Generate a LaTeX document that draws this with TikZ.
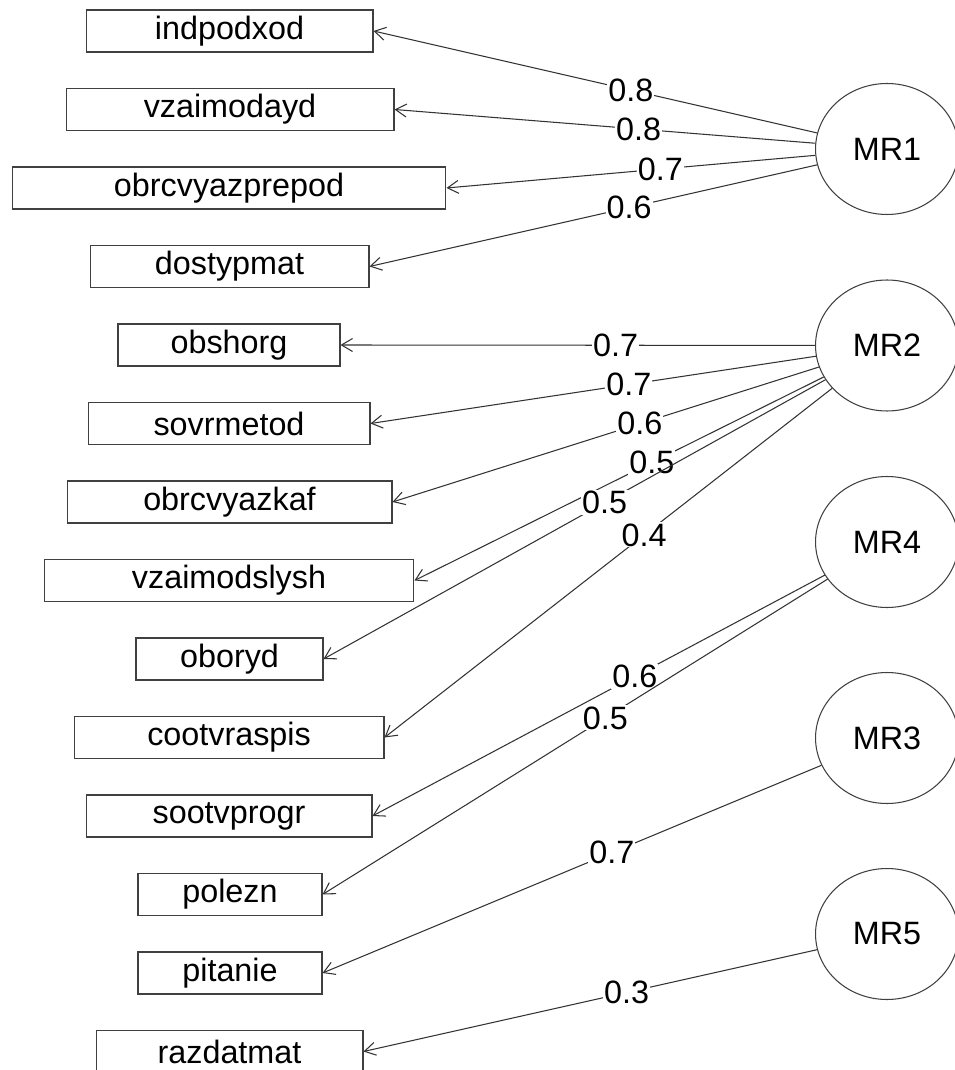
\documentclass[tikz,border=0pt]{standalone}
\usepackage{fontspec}
\setmainfont{Liberation Sans}
\usetikzlibrary{shapes.geometric,arrows.meta}
\begin{document}
\begin{tikzpicture}[x=0.02cm,y=-0.02cm,
  font=\fontsize{18.4}{22}\selectfont,
  var/.style={draw=black!75,line width=0.6pt,rectangle,minimum height=0.84cm,inner sep=0pt},
  fac/.style={draw=black!75,line width=0.6pt,ellipse,minimum width=2.86cm,minimum height=2.62cm,inner sep=0pt},
  arr/.style={draw=black!80,line width=0.6pt,-{Straight Barb[length=0.22cm,width=0.26cm,line width=0.6pt]}},
  lbl/.style={fill=white,inner sep=0.6pt,pos=0.42}]
\useasboundingbox (0,0) rectangle (955,1070);
\node[var,minimum width=5.74cm] (indpodxod) at (229.5,31) {indpodxod};
\node[var,minimum width=6.56cm] (vzaimodayd) at (230,109.5) {vzaimodayd};
\node[var,minimum width=8.68cm] (obrcvyazprepod) at (229,188) {obrcvyazprepod};
\node[var,minimum width=5.58cm] (dostypmat) at (229.5,266.5) {dostypmat};
\node[var,minimum width=4.44cm] (obshorg) at (229,345) {obshorg};
\node[var,minimum width=5.64cm] (sovrmetod) at (229,423.5) {sovrmetod};
\node[var,minimum width=6.50cm] (obrcvyazkaf) at (229.5,502) {obrcvyazkaf};
\node[var,minimum width=7.40cm] (vzaimodslysh) at (229,580.5) {vzaimodslysh};
\node[var,minimum width=3.74cm] (oboryd) at (229.5,659) {oboryd};
\node[var,minimum width=6.20cm] (cootvraspis) at (229,737.5) {cootvraspis};
\node[var,minimum width=5.72cm] (sootvprogr) at (229,816) {sootvprogr};
\node[var,minimum width=3.68cm] (polezn) at (230,894.5) {polezn};
\node[var,minimum width=3.68cm] (pitanie) at (230,973) {pitanie};
\node[var,minimum width=5.34cm] (razdatmat) at (229.5,1051.5) {razdatmat};
\node[fac] (MR1) at (887,149) {MR1};
\node[fac] (MR2) at (887,345.5) {MR2};
\node[fac] (MR4) at (887,542) {MR4};
\node[fac] (MR3) at (887,738) {MR3};
\node[fac] (MR5) at (887,934) {MR5};
\draw[arr] (MR1) -- node[lbl]{0.8} (indpodxod.east);
\draw[arr] (MR1) -- node[lbl]{0.8} (vzaimodayd.east);
\draw[arr] (MR1) -- node[lbl]{0.7} (obrcvyazprepod.east);
\draw[arr] (MR1) -- node[lbl]{0.6} (dostypmat.east);
\draw[arr] (MR2) -- node[lbl]{0.7} (obshorg.east);
\draw[arr] (MR2) -- node[lbl]{0.7} (sovrmetod.east);
\draw[arr] (MR2) -- node[lbl]{0.6} (obrcvyazkaf.east);
\draw[arr] (MR2) -- node[lbl]{0.5} (vzaimodslysh.east);
\draw[arr] (MR2) -- node[lbl,pos=0.44]{0.5} (oboryd.east);
\draw[arr] (MR2) -- node[lbl]{0.4} (cootvraspis.east);
\draw[arr] (MR4) -- node[lbl]{0.6} (sootvprogr.east);
\draw[arr] (MR4) -- node[lbl,pos=0.44]{0.5} (polezn.east);
\draw[arr] (MR3) -- node[lbl]{0.7} (pitanie.east);
\draw[arr] (MR5) -- node[lbl]{0.3} (razdatmat.east);
\end{tikzpicture}
\end{document}
